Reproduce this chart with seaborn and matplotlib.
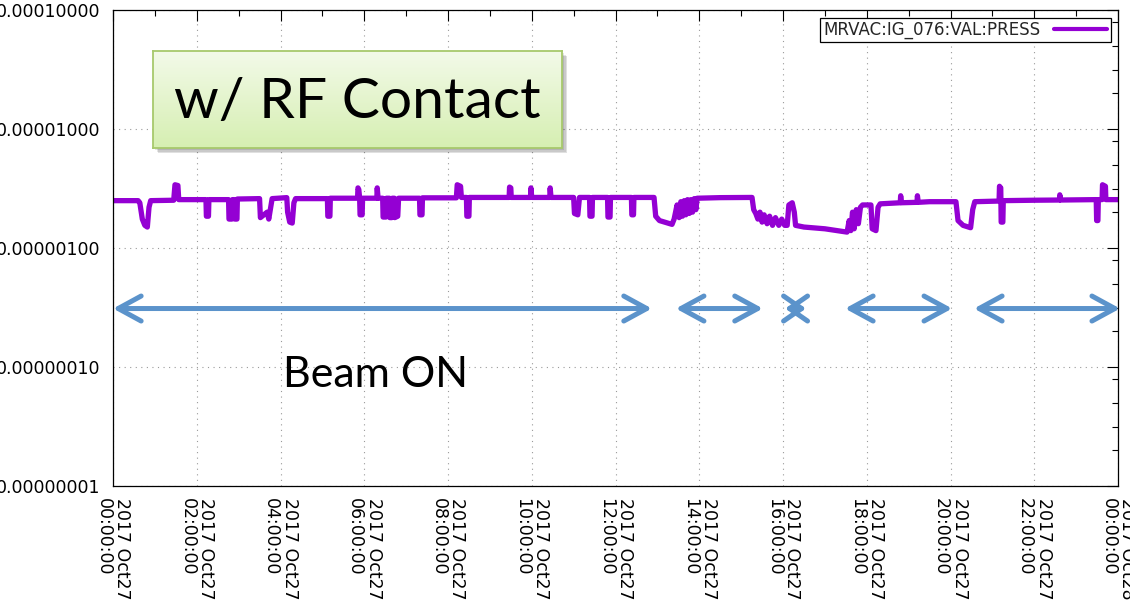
import numpy as np
import pandas as pd
import matplotlib
matplotlib.use("Agg")
import matplotlib.pyplot as plt
import matplotlib.dates as mdates
from matplotlib.ticker import LogLocator, FormatStrFormatter, NullFormatter
from matplotlib.patches import Rectangle
import seaborn as sns

# ---- pressure record, MRVAC:IG_076 (hours after 2017-10-27 00:00, value in 1e-6) ----
hours = [
    0.00, 0.60, 0.64, 0.70, 0.76, 0.82, 0.86, 0.90,
    1.45, 1.48, 1.55, 1.57,
    2.22, 2.23, 2.28, 2.29, 2.76, 2.77, 2.84, 2.85, 2.90, 2.91, 2.96, 2.97,
    3.50, 3.52, 3.60, 3.68, 3.72, 3.80,
    4.15, 4.17, 4.22, 4.28, 4.32, 4.36,
    5.12, 5.13, 5.18, 5.19, 5.84, 5.85, 5.87, 5.89, 5.90, 5.95, 5.96,
    6.30, 6.31, 6.33, 6.44, 6.45, 6.52, 6.53, 6.60, 6.61, 6.66, 6.67, 6.72, 6.73, 6.80, 6.82,
    7.32, 7.33, 7.38, 7.39,
    8.20, 8.22, 8.30, 8.32, 8.44, 8.45, 8.50, 8.51,
    9.46, 9.47, 9.50, 9.51, 9.97, 9.98, 10.00, 10.43, 10.44, 10.46,
    11.00, 11.02, 11.10, 11.14, 11.38, 11.39, 11.44, 11.45, 11.81, 11.82, 11.87, 11.88,
    12.38, 12.39, 12.43, 12.44, 12.92, 12.96, 13.05, 13.25, 13.35, 13.40, 13.47,
    13.52, 13.56, 13.60, 13.64, 13.68, 13.72, 13.76, 13.80, 13.84, 13.88, 13.92, 13.95,
    14.50, 15.00, 15.26, 15.30, 15.35, 15.40, 15.45, 15.50, 15.55, 15.62, 15.68, 15.75,
    15.82, 15.90, 15.97, 16.04, 16.10, 16.14, 16.22, 16.27, 16.30, 16.50, 17.00, 17.40,
    17.53, 17.58, 17.62, 17.66, 17.70, 17.75, 17.80, 17.85, 17.90, 18.10, 18.13, 18.22,
    18.27, 18.32, 18.80, 18.81, 18.83, 19.20, 19.21, 19.23, 19.50, 20.13, 20.18, 20.30,
    20.48, 20.53, 20.58, 21.16, 21.17, 21.20, 21.21, 21.25, 21.26, 22.00, 22.60, 22.61,
    22.63, 23.48, 23.49, 23.52, 23.53, 23.62, 23.63, 23.70, 23.71, 24.00,
]
press_e6 = [
    2.50, 2.50, 2.40, 1.75, 1.55, 1.50, 2.20, 2.50,
    2.52, 3.40, 3.35, 2.55,
    2.55, 1.85, 1.85, 2.55, 2.55, 1.75, 1.75, 2.55, 2.55, 1.75, 1.75, 2.58,
    2.60, 1.80, 1.90, 2.00, 1.75, 2.60,
    2.65, 2.00, 1.65, 1.62, 2.40, 2.60,
    2.60, 1.85, 1.85, 2.62, 2.62, 3.20, 3.10, 2.62, 1.90, 1.90, 2.62,
    2.62, 3.20, 2.62, 2.62, 1.82, 1.82, 2.62, 2.62, 1.80, 1.80, 2.62, 2.62, 1.80, 1.85, 2.62,
    2.62, 1.90, 1.90, 2.64,
    2.64, 3.40, 3.30, 2.66, 2.66, 1.85, 1.85, 2.66,
    2.66, 3.25, 3.20, 2.66, 2.66, 3.20, 2.66, 2.66, 3.20, 2.66,
    2.66, 1.95, 1.90, 2.66, 2.66, 1.85, 1.85, 2.66, 2.66, 1.82, 1.82, 2.66,
    2.66, 1.90, 1.90, 2.66, 2.66, 1.85, 1.70, 1.62, 1.58, 1.75, 2.30,
    1.80, 2.45, 1.85, 2.50, 1.90, 2.55, 1.95, 2.55, 2.00, 2.60, 2.10, 2.62,
    2.65, 2.66, 2.66, 2.10, 1.95, 1.75, 2.00, 1.65, 1.90, 1.60, 1.85, 1.55,
    1.80, 1.55, 1.75, 1.55, 1.55, 2.30, 2.40, 2.00, 1.55, 1.50, 1.45, 1.38,
    1.36, 1.70, 1.40, 2.00, 1.45, 2.10, 1.60, 2.20, 2.30, 2.30, 1.45, 1.40,
    2.20, 2.35, 2.40, 2.75, 2.40, 2.42, 2.75, 2.42, 2.45, 2.45, 1.70, 1.55,
    1.48, 2.10, 2.45, 2.48, 3.30, 3.20, 1.65, 1.65, 2.50, 2.52, 2.53, 2.80,
    2.53, 2.55, 1.70, 1.70, 2.55, 2.55, 3.40, 3.30, 2.55, 2.55,
]

series_name = "MRVAC:IG_076:VAL:PRESS"
start = pd.Timestamp("2017-10-27 00:00:00")
end = pd.Timestamp("2017-10-28 00:00:00")

# beam-on periods marked with double arrows (hours)
beam_start = [0.00, 13.44, 16.05, 17.48, 20.56]
beam_end = [12.87, 15.52, 16.55, 20.04, 24.05]
arrow_level = 3.1e-7

df = pd.DataFrame({
    "time": start + pd.to_timedelta(hours, unit="h"),
    "pressure": np.array(press_e6) * 1e-6,
})

sns.set_style("white")
plt.rcParams["font.family"] = ["DejaVu Sans"]

W, H = 1130, 606
fig = plt.figure(figsize=(W / 100, H / 100), dpi=100)
ax = fig.add_axes([113 / W, 1 - 486 / H, (1118 - 113) / W, (486 - 10) / H])

purple = "#9400d3"
sns.lineplot(data=df, x="time", y="pressure", ax=ax, color=purple, lw=3.8,
             estimator=None, sort=False, label=series_name,
             solid_joinstyle="round", solid_capstyle="round")

ax.set_yscale("log")
ax.set_ylim(1e-8, 1e-4)
ax.set_xlim(start, end)
ax.set_xlabel("")
ax.set_ylabel("")

# axis ticks in gnuplot fashion: inward, mirrored on all sides
ax.yaxis.set_major_locator(LogLocator(base=10, numticks=10))
ax.yaxis.set_minor_locator(LogLocator(base=10, subs=[2.0, 3.16, 5.0, 7.94], numticks=20))
ax.yaxis.set_major_formatter(FormatStrFormatter("%.8f"))
ax.yaxis.set_minor_formatter(NullFormatter())
ax.xaxis.set_major_locator(mdates.HourLocator(byhour=range(0, 24, 2)))
ax.xaxis.set_minor_locator(mdates.HourLocator())
ax.xaxis.set_major_formatter(mdates.DateFormatter("%Y %b%d\n%H:%M:%S"))

ax.tick_params(axis="both", which="both", direction="in", top=True, right=True,
               colors="black", width=0.8)
ax.tick_params(axis="both", which="major", length=8, labelsize=12.5, pad=9)
ax.tick_params(axis="both", which="minor", length=4.5)
for lab in ax.get_xticklabels():
    lab.set_rotation(-90)
    lab.set_ha("center")
    lab.set_va("top")
    lab.set_multialignment("left")
    lab.set_linespacing(1.05)

for sp in ax.spines.values():
    sp.set_color("black")
    sp.set_linewidth(0.9)

ax.grid(True, which="major", color="#9a9a9a", linestyle=(0, (1, 4)), linewidth=0.8)
ax.set_axisbelow(True)

leg = ax.legend(loc="upper right", markerfirst=False, fontsize=12, frameon=True,
                fancybox=False, framealpha=1, edgecolor="black", borderpad=0.2,
                borderaxespad=0.45, handlelength=3.2, handletextpad=0.8)
leg.get_frame().set_linewidth(0.9)
for ln in leg.get_lines():
    ln.set_linewidth(3)

# beam-on arrows; the shortest one gets smaller heads so they cross into an "x"
arrow_color = "#5b93cb"
for s, e in zip(beam_start, beam_end):
    span_h = e - s
    hl = 1.65 if span_h > 1 else 1.3
    ax.annotate("", xy=(start + pd.Timedelta(hours=e), arrow_level),
                xytext=(start + pd.Timedelta(hours=s), arrow_level),
                arrowprops=dict(arrowstyle=f"<->,head_length={hl},head_width=0.9",
                                mutation_scale=10, color=arrow_color, lw=3.6,
                                shrinkA=0, shrinkB=0, capstyle="round",
                                joinstyle="round"),
                annotation_clip=False)

ax.text(start + pd.Timedelta(hours=6.26), 8.6e-8, "Beam ON", family="Lato",
        fontsize=31, ha="center", va="center", color="black")

# labelled call-out box with soft shadow and green gradient
bx0, by0, bx1, by1 = 153, 51, 562, 148
for k, a in enumerate([0.10, 0.10, 0.12]):
    off = 2 + 1.5 * k
    fig.patches.append(Rectangle(((bx0 + off) / W, 1 - (by1 + off) / H),
                                 (bx1 - bx0) / W, (by1 - by0) / H,
                                 transform=fig.transFigure, facecolor="black",
                                 edgecolor="none", alpha=a, zorder=5))
bax = fig.add_axes([bx0 / W, 1 - by1 / H, (bx1 - bx0) / W, (by1 - by0) / H], zorder=6)
top_c = np.array([243, 250, 233]) / 255
bot_c = np.array([214, 239, 178]) / 255
t = np.linspace(0, 1, 64)[:, None, None]
grad = top_c * (1 - t) + bot_c * t
bax.imshow(np.repeat(grad, 2, axis=1), aspect="auto", extent=[0, 1, 0, 1],
           interpolation="bilinear")
bax.set_xticks([])
bax.set_yticks([])
for sp in bax.spines.values():
    sp.set_color("#a7c96c")
    sp.set_linewidth(1.3)
bax.text(0.5, 0.47, "w/ RF Contact", family="Lato", fontsize=41, ha="center",
         va="center", color="black", transform=bax.transAxes)

fig.savefig("out.png", dpi=100)
